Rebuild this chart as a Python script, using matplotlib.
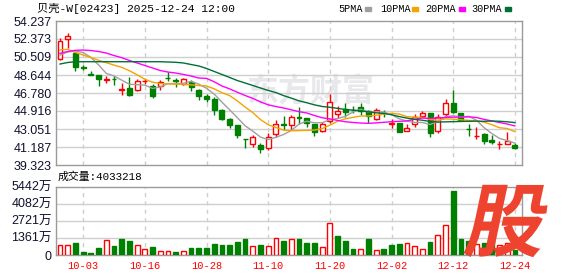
import numpy as np
import pandas as pd
import matplotlib
matplotlib.use('Agg')
import matplotlib.pyplot as plt
from matplotlib.patches import Rectangle, PathPatch
from matplotlib.textpath import TextPath
from matplotlib.font_manager import FontProperties
from matplotlib.transforms import Affine2D

plt.rcParams['font.family'] = ['Liberation Sans', 'Noto Sans CJK SC']

# daily OHLC (HKD) and volume (万股), 60 sessions up to 12-24
opens = [50.27, 52.34, 50.89, 49.50, 48.75, 48.64, 48.17, 48.23, 47.14, 47.27,
         47.09, 48.03, 47.50, 47.51, 48.33, 48.08, 47.71, 47.89, 47.09, 46.47,
         46.16, 45.02, 44.06, 43.47, 42.02, 41.50, 41.39, 41.05, 42.50, 43.59,
         43.47, 44.27, 44.16, 43.57, 42.84, 43.83, 44.57, 45.12, 45.04, 45.30,
         44.92, 44.06, 44.75, 43.62, 43.64, 42.84, 43.54, 44.43, 44.68, 42.84,
         44.57, 45.71, 44.68, 43.08, 42.32, 42.53, 41.91, 41.46, 41.50, 41.40]
highs = [52.45, 52.99, 51.06, 49.68, 49.09, 48.66, 48.54, 48.54, 47.85, 48.47,
         48.23, 48.23, 47.68, 48.13, 48.99, 48.30, 48.30, 48.13, 47.16, 46.68,
         46.33, 45.09, 44.22, 43.50, 42.02, 42.43, 41.57, 42.61, 43.98, 44.40,
         44.50, 45.30, 44.16, 43.60, 43.81, 46.68, 45.43, 45.71, 45.43, 45.71,
         44.98, 45.20, 45.02, 44.09, 43.66, 43.57, 44.61, 44.91, 44.70, 44.57,
         46.16, 47.09, 44.74, 43.57, 43.23, 42.67, 42.43, 41.84, 42.71, 41.57]
lows = [50.20, 51.44, 49.03, 49.16, 48.66, 47.54, 47.85, 47.64, 46.57, 46.47,
        47.02, 47.71, 46.29, 47.09, 48.05, 47.37, 47.61, 47.02, 46.05, 45.88,
        44.50, 43.98, 43.19, 42.15, 41.05, 41.22, 40.60, 40.88, 42.25, 42.95,
        42.95, 43.57, 43.23, 42.36, 42.77, 43.63, 44.22, 44.33, 44.68, 44.50,
        43.64, 43.98, 44.33, 43.19, 42.71, 42.80, 43.29, 44.33, 42.25, 42.61,
        44.33, 44.74, 43.98, 42.33, 42.02, 41.50, 41.50, 40.98, 41.46, 41.01]
closes = [52.17, 52.68, 49.50, 49.34, 48.68, 48.26, 48.28, 48.18, 47.16, 46.57,
          48.02, 48.05, 46.47, 47.92, 48.30, 48.05, 48.20, 47.44, 46.50, 46.16,
          45.02, 44.06, 43.47, 42.40, 42.00, 42.25, 40.95, 42.19, 43.54, 43.50,
          44.33, 44.23, 43.70, 42.71, 43.57, 45.80, 44.92, 44.78, 45.00, 44.92,
          44.40, 45.02, 44.71, 43.64, 42.77, 43.19, 44.33, 44.68, 42.61, 44.33,
          45.71, 44.78, 43.98, 43.03, 42.33, 41.84, 41.74, 41.47, 41.84, 41.08]
volumes = [797, 797, 980, 263, 183, 558, 1195, 741, 1275, 1115,
           797, 478, 637, 319, 319, 239, 319, 558, 558, 558,
           876, 797, 797, 1062, 1275, 717, 797, 717, 1328, 1115,
           1248, 1248, 980, 980, 611, 2523, 1514, 1115, 478, 478,
           1248, 398, 478, 797, 876, 929, 717, 478, 1036, 1594,
           2390, 5100, 1248, 1115, 900, 980, 1408, 800, 929, 403]
vol_dir = "RRGGGGRGGG" "RRGRRGRGGG" "GGGGGRGRRG" "RGGGRRGGGR" "GRGGGRRRGR" "RGGGRGGRRG"

# moving-average values before enough in-window history exists
ma5_head = [50.72, 51.03, 51.13, 50.97]
ma10_head = [51.23, 51.31, 50.98, 50.71, 50.45, 50.17, 49.92, 49.67, 49.44]
ma20_head = [50.89, 51.08, 51.20, 51.23, 51.18, 51.08, 50.92, 50.66, 50.44, 50.15,
             49.89, 49.63, 49.37, 49.11, 48.95, 48.85, 48.70, 48.54, 48.33]
ma30_head = [49.78, 49.94, 50.02, 50.02, 50.02, 50.02, 50.02, 50.02, 50.02, 50.02,
             50.02, 50.02, 50.02, 50.02, 49.99, 49.96, 49.89, 49.73, 49.58, 49.32,
             49.01, 48.70, 48.39, 48.07, 47.82, 47.56, 47.30, 47.04, 46.83]

date_labels = ['10-03', '10-16', '10-28', '11-10', '11-20', '12-02', '12-12', '12-24']
price_ticks = ['39.323', '41.187', '43.051', '44.916', '46.780', '48.644', '50.509', '52.373', '54.237']
vol_ticks = [0, 1361, 2721, 4082, 5442]

RED = '#ff0000'
GREEN = '#008000'
MA_COLORS = {5: '#a0a0a0', 10: '#f5a300', 20: '#ff00ff', 30: '#006f37'}
GRID = '#cfcfcf'
FRAME = '#9a9a9a'

n = len(closes)
x = np.arange(n)
cs = pd.Series(closes)
heads = {5: ma5_head, 10: ma10_head, 20: ma20_head, 30: ma30_head}
ma = {}
for p, head in heads.items():
    roll = cs.rolling(p).mean().to_numpy()
    ma[p] = np.array(list(head) + list(roll[len(head):]))

W, H = 578, 276
fig = plt.figure(figsize=(W / 100, H / 100), dpi=100)


def px_axes(l, t, r, b):
    return fig.add_axes([l / W, 1 - b / H, (r - l) / W, (b - t) / H])


ax = px_axes(56, 21, 522, 165)
axv = px_axes(56, 186.5, 522, 255)
xlim = (-0.52, 59.92)
tick_pos = list(range(3, n, 8))

for a in (ax, axv):
    a.set_xlim(*xlim)
    for s in a.spines.values():
        s.set_color(FRAME)
        s.set_linewidth(1)
    a.set_xticks([])
    a.tick_params(axis='y', length=0, pad=3, labelsize=9, labelcolor='#101030')
    for t in tick_pos:
        a.axvline(t, color=GRID, lw=1, ls=(0, (3, 3)), zorder=1)
    a.set_axisbelow(True)

# price panel
pt = [float(v) for v in price_ticks]
ax.set_ylim(pt[0], pt[-1])
ax.set_yticks(pt)
ax.set_yticklabels(price_ticks)
for v in pt[1:-1]:
    ax.axhline(v, color=GRID, lw=1, zorder=1)

ax.text(0.545, 0.5, '东方财富', transform=ax.transAxes, ha='center', va='center',
        fontsize=23, fontweight='bold', color='#e8e8ec', family=['Noto Sans CJK SC'], zorder=0)

for i in x:
    o, h, l, c = opens[i], highs[i], lows[i], closes[i]
    up = c >= o
    col = RED if up else GREEN
    ax.vlines(i, l, h, color=col, lw=1, zorder=3)
    body = abs(c - o)
    ax.add_patch(Rectangle((i - 0.32, min(o, c)), 0.64, body,
                           facecolor='white' if up else col, edgecolor=col,
                           lw=1, zorder=4))

for p in (5, 10, 20, 30):
    ax.plot(x, ma[p], color=MA_COLORS[p], lw=1, zorder=5)

# volume panel
axv.set_ylim(0, vol_ticks[-1])
axv.set_yticks(vol_ticks)
axv.set_yticklabels(['0'] + [f'{v}万' for v in vol_ticks[1:]])
for v in vol_ticks[1:-1]:
    axv.axhline(v, color=GRID, lw=1, zorder=1)
vcol = [RED if d == 'R' else GREEN for d in vol_dir]
vface = ['white' if d == 'R' else GREEN for d in vol_dir]
axv.bar(x, volumes, width=0.62, color=vface, edgecolor=vcol, lw=1, zorder=3)

for t, lab in zip(tick_pos, date_labels):
    axv.text(t, -0.16, lab, transform=axv.get_xaxis_transform(), ha='center', va='center',
             color=RED, fontsize=7.5, family=['Liberation Mono'])

# header texts
mono = ['Liberation Mono', 'Noto Sans CJK SC']
fig.text(37 / W, 1 - 9 / H, '贝壳-W[02423] 2025-12-24 12:00', ha='left', va='center',
         fontsize=8.1, family=mono, color='#000000')
fig.text(58 / W, 1 - 177 / H, '成交量:4033218', ha='left', va='center',
         fontsize=7.8, family=mono, color='#000000')

legend = [('5PMA', 338, 365, 5), ('10PMA', 380, 412, 10), ('20PMA', 425, 459, 20), ('30PMA', 471, 505, 30)]
for lab, tx, mx, p in legend:
    fig.text(tx / W, 1 - 9 / H, lab, ha='left', va='center', fontsize=7.3,
             family=mono, color='#000000')
    fig.patches.append(Rectangle((mx / W, 1 - 10.5 / H), 6 / W, 3 / H,
                                 transform=fig.transFigure, color=MA_COLORS[p]))

# brand mark in lower-right corner
tp = TextPath((0, 0), '股', size=80, prop=FontProperties(family='Noto Sans CJK SC', weight='heavy'))
tr = Affine2D().skew_deg(12, 0).translate(462, H - 250)
fig.add_artist(PathPatch(tp, transform=tr, facecolor='#ee432e', edgecolor='none', zorder=10))

fig.savefig('out.png', dpi=100)
